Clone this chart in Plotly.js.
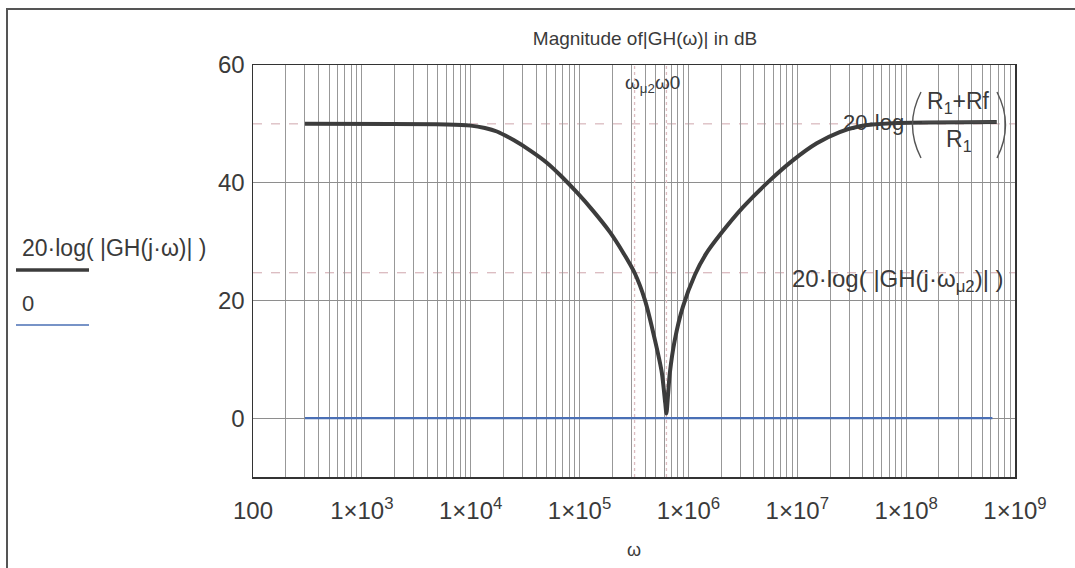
<!DOCTYPE html>
<html>
<head>
<meta charset="utf-8">
<script src="https://cdn.plot.ly/plotly-3.0.1.min.js"></script>
<style>
  html, body { margin:0; padding:0; background:#fff; }
  #wrap { position:relative; width:1075px; height:568px; overflow:hidden; }
  #chart { position:absolute; left:0; top:0; width:1075px; height:568px; }
  #frame { position:absolute; left:6px; top:8px; width:1200px; height:700px;
           border-left:2px solid #555; border-top:2px solid #555; pointer-events:none; }
</style>
</head>
<body>
<div id="wrap"><div id="chart"></div><div id="frame"></div></div>
<script>
// ---- data ----
const omega = [300, 6000, 10000, 13500, 17400, 25000, 35000, 50000, 68000, 95000, 132000,
               190000, 250000, 320000, 398000, 492000, 570000, 612000, 628000, 650000,
               675000, 750000, 889000, 1150000, 1450000, 1940000, 3160000, 5600000,
               9100000, 15100000, 24500000, 37500000, 75000000, 680000000];
const gainDB = [50.0, 49.9, 49.7, 49.3, 48.7, 47.2, 45.5, 43.4, 41.1, 38.3, 35.3,
                31.6, 28.2, 24.7, 20.1, 13.3, 7.7, 2.6, 0.8, 4.0,
                7.7, 13.3, 18.9, 24.4, 27.9, 31.1, 35.8, 40.4,
                43.8, 46.7, 48.6, 49.6, 50.1, 50.3];
const zeroOmega = [300, 620000000];
const zeroDB = [0, 0];
const markerOmega = [320000, 628000];   // omega_mu2, omega0
const markerDB = [50, 24.7];            // 20log((R1+Rf)/R1), 20log|GH(j omega_mu2)|
const decades = [100, 1e3, 1e4, 1e5, 1e6, 1e7, 1e8, 1e9];
const decadeLabels = ['100', '1×10<sup>3</sup>', '1×10<sup>4</sup>', '1×10<sup>5</sup>',
                      '1×10<sup>6</sup>', '1×10<sup>7</sup>', '1×10<sup>8</sup>', '1×10<sup>9</sup>'];
const yTicks = [0, 20, 40, 60];
const yRange = [-10, 60];

// ---- geometry helpers (pixel -> paper) ----
const L = 253, R = 1015, T = 65, B = 477, W = R - L, H = B - T;
const PX = p => (p - L) / W;
const PY = p => (B - p) / H;

// log grid: 2..9 multiples of each decade as minor grid lines
const minorVals = [];
decades.slice(0, -1).forEach(d => { for (let k = 2; k <= 9; k++) minorVals.push(k * d); });

const FONT = 'Liberation Sans, Arial, sans-serif';
const TXT = '#3a3a3a';

const traces = [
  { x: markerOmega.slice(0,1).concat(markerOmega.slice(0,1)), y: yRange, mode: 'lines',
    line: { color: '#dcbcc0', width: 1.3, dash: 'dot' }, hoverinfo: 'skip' },
  { x: markerOmega.slice(1,2).concat(markerOmega.slice(1,2)), y: yRange, mode: 'lines',
    line: { color: '#dcbcc0', width: 1.3, dash: 'dot' }, hoverinfo: 'skip' },
  { x: zeroOmega, y: zeroDB, mode: 'lines', line: { color: '#4a6fb5', width: 2.2 } },
  { x: omega, y: gainDB, mode: 'lines', line: { color: '#3c3c3c', width: 4, shape: 'spline', smoothing: 0.7 } }
];

const ann = (text, px, py, size, xanchor) => ({
  text, xref: 'paper', yref: 'paper', x: PX(px), y: PY(py),
  xanchor: xanchor || 'center', yanchor: 'middle', showarrow: false,
  font: { family: FONT, size, color: TXT }
});

const paren = (x0, xc, yTop, yBot) => ({
  type: 'path', xref: 'paper', yref: 'paper',
  path: `M ${PX(x0)} ${PY(yTop)} Q ${PX(xc)} ${PY((yTop + yBot) / 2)} ${PX(x0)} ${PY(yBot)}`,
  line: { color: '#555', width: 1.4 }
});

const layout = {
  width: 1075, height: 568,
  margin: { l: L, r: 1075 - R, t: T, b: 568 - B, pad: 0 },
  paper_bgcolor: '#fff', plot_bgcolor: '#fff',
  showlegend: false,
  font: { family: FONT, color: TXT },
  title: { text: 'Magnitude of|GH(ω)| in dB', xref: 'paper', x: PX(645), xanchor: 'center',
           yref: 'container', y: 1 - 38 / 568, yanchor: 'middle',
           font: { family: FONT, size: 19, color: TXT } },
  xaxis: {
    type: 'log', range: [Math.log10(decades[0]), Math.log10(decades[decades.length - 1])],
    tickmode: 'array', tickvals: decades, ticktext: decadeLabels,
    showgrid: true, gridcolor: '#989898', gridwidth: 1, zeroline: false,
    minor: { tickmode: 'array', tickvals: minorVals, showgrid: true, gridcolor: '#989898', gridwidth: 1, ticks: '' },
    showline: true, mirror: true, linecolor: '#333', linewidth: 1.5,
    ticks: '', ticklabelstandoff: 12, tickfont: { family: FONT, size: 24, color: TXT },
    title: { text: 'ω', font: { family: FONT, size: 18, color: TXT }, standoff: 20 }
  },
  yaxis: {
    range: yRange, tickmode: 'array', tickvals: yTicks,
    showgrid: true, gridcolor: '#8e8e8e', gridwidth: 1, zeroline: false,
    showline: true, mirror: true, linecolor: '#333', linewidth: 1.5,
    ticks: '', ticklabelstandoff: 2, tickfont: { family: FONT, size: 24, color: TXT }
  },
  shapes: [
    { type: 'line', xref: 'paper', yref: 'y', x0: 0, x1: 1, y0: markerDB[0], y1: markerDB[0],
      line: { color: '#cfa6ac', width: 1, dash: 'dash' }, layer: 'below' },
    { type: 'line', xref: 'paper', yref: 'y', x0: 0, x1: 1, y0: markerDB[1], y1: markerDB[1],
      line: { color: '#cfa6ac', width: 1, dash: 'dash' }, layer: 'below' },
    // legend swatches
    { type: 'line', xref: 'paper', yref: 'paper', x0: PX(16), x1: PX(89), y0: PY(270), y1: PY(270),
      line: { color: '#3c3c3c', width: 3.5 } },
    { type: 'line', xref: 'paper', yref: 'paper', x0: PX(16), x1: PX(89), y0: PY(325), y1: PY(325),
      line: { color: '#4a6fb5', width: 1.6 } },
    // fraction label parentheses and bar
    paren(921, 904, 92, 158),
    paren(997, 1014, 92, 158),
    { type: 'line', xref: 'paper', yref: 'paper', x0: PX(922), x1: PX(996), y0: PY(122), y1: PY(122),
      line: { color: '#555', width: 1.2 } }
  ],
  annotations: [
    ann('ω<sub>μ2</sub>ω0', 652, 84, 19),
    ann('20·log', 873, 122, 22),
    ann('R<sub>1</sub>+Rf', 958, 103, 23),
    ann('R<sub>1</sub>', 959, 140, 23),
    ann('20·log( |GH(j·ω<sub>μ2</sub>)| )', 898, 280, 24),
    ann('20·log( |GH(j·ω)| )', 20, 248, 23, 'left'),
    ann('0', 20, 303, 22, 'left')
  ]
};

Plotly.newPlot('chart', traces, layout, { staticPlot: true, displayModeBar: false });
</script>
</body>
</html>
